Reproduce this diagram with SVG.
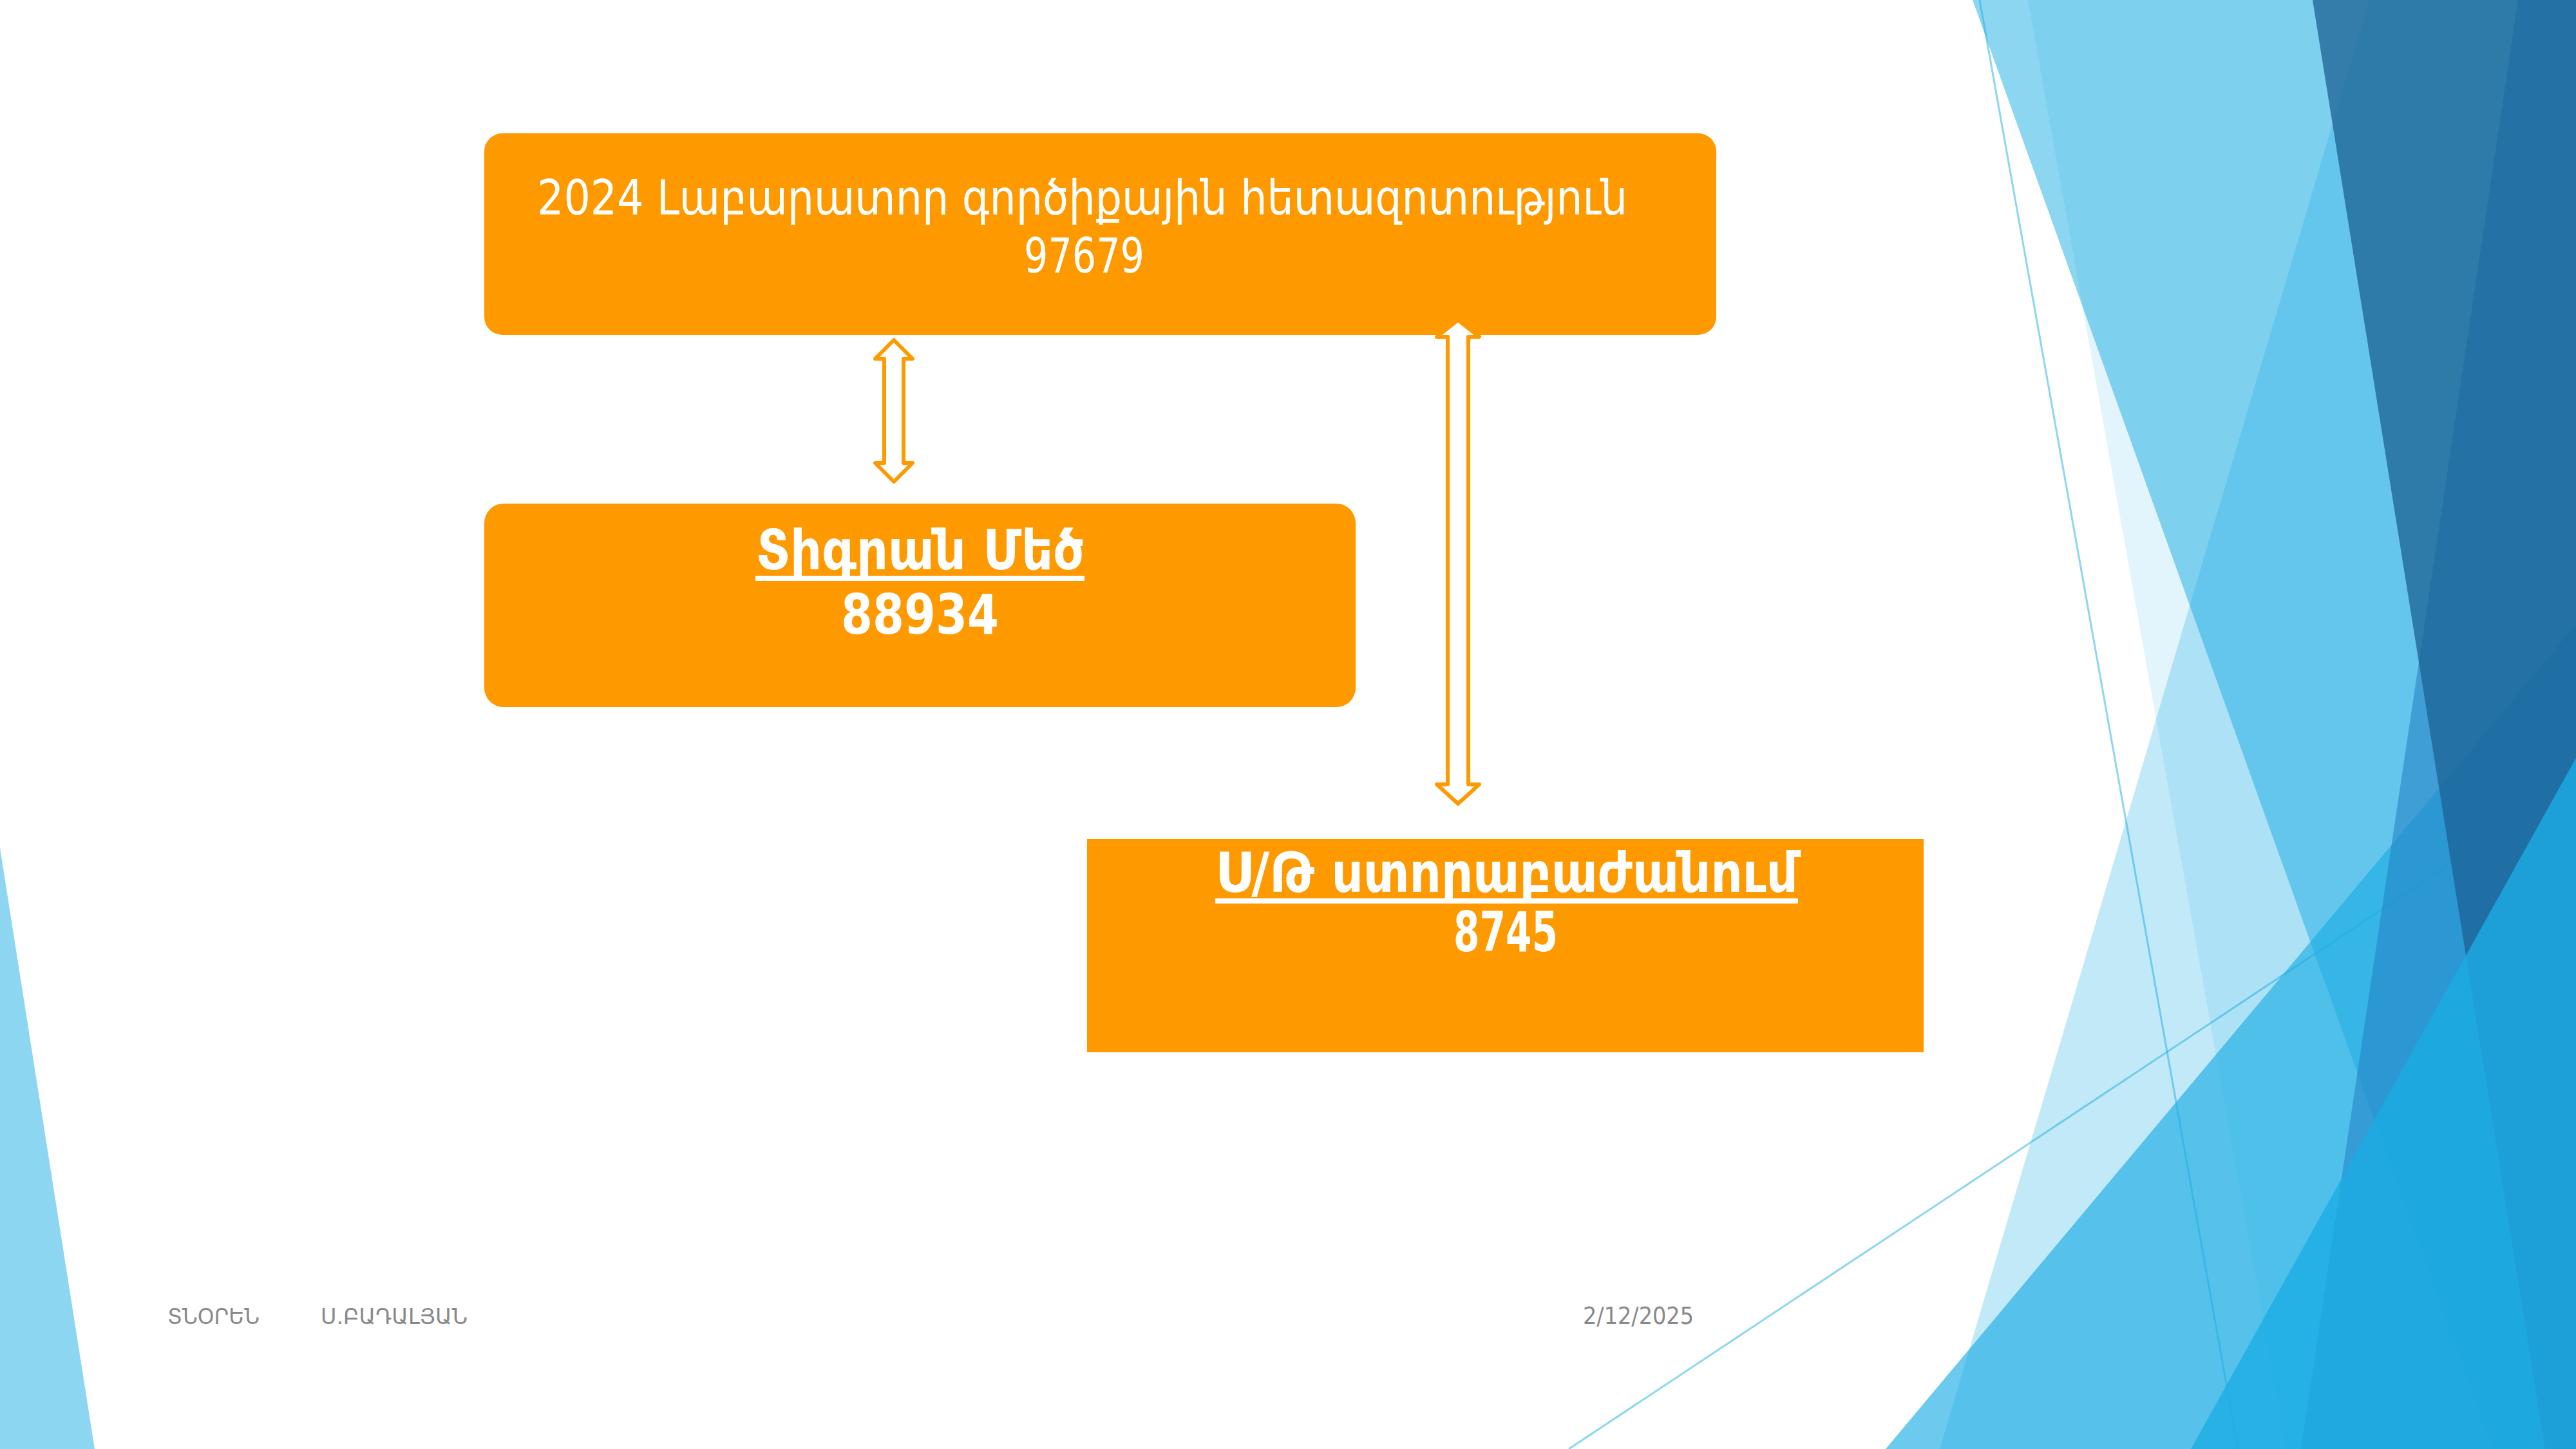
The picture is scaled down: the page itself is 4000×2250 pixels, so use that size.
<svg xmlns="http://www.w3.org/2000/svg" width="4000" height="2250" viewBox="0 0 4000 2250">
  <style>
    .box { fill: #FF9900; }
    .lbl { font-family: "DejaVu Sans", "Noto Sans", sans-serif; fill: #FFFFFF; }
    .reg { font-size: 75px; }
    .bold { font-size: 85px; font-weight: bold; }
    .uline { fill: #FFFFFF; }
    .foot { font-family: "DejaVu Sans", "Noto Sans", sans-serif; fill: #898989; }
    .arrow { fill: #FFFFFF; stroke: #FF9900; stroke-width: 6; stroke-linejoin: round; }
    .facet { fill: #1CADE4; }
    .rule { stroke: #1CADE4; stroke-opacity: 0.5; stroke-width: 3; fill: none; }
  </style>

  <!-- page -->
  <rect x="0" y="0" width="4000" height="2250" fill="#FFFFFF"/>

  <!-- decorative facets -->
  <g id="background">
    <polygon class="facet" fill-opacity="0.5" points="0,1317 147,2250 0,2250"/>
    <line class="rule" x1="3074" y1="0" x2="3475" y2="2250"/>
    <line class="rule" x1="2436" y1="2250" x2="4000" y2="1212"/>
    <polygon class="facet" fill-opacity="0.5" points="3063,0 3870,2250 4000,2250 4000,0"/>
    <polygon class="facet" fill-opacity="0.13" points="3149,0 3550,2250 4000,2250 4000,0"/>
    <polygon class="facet" fill-opacity="0.27" points="3679,0 3012,2250 4000,2250 4000,0"/>
    <polygon class="facet" fill-opacity="0.65" points="2928,2250 4000,970 4000,2250"/>
    <polygon fill="#2683C6" fill-opacity="0.6" points="3910,0 4000,0 4000,2250 3573,2250"/>
    <polygon fill="#1C6294" fill-opacity="0.75" points="3591,0 4000,0 4000,2250 3952,2250"/>
    <polygon class="facet" fill-opacity="0.8" points="3402,2250 4000,1177 4000,2250"/>
  </g>

  <!-- nodes -->
  <g id="node-lab">
    <rect class="box" x="752" y="207" width="1913" height="313" rx="28" ry="28"/>
    <text class="lbl reg" x="834" y="333" textLength="1693" lengthAdjust="spacingAndGlyphs">2024 Լաբարատոր գործիքային հետազոտություն</text>
    <text class="lbl reg" x="1590" y="423" textLength="187" lengthAdjust="spacingAndGlyphs">97679</text>
  </g>

  <g id="node-tigran">
    <rect class="box" x="752" y="782" width="1353" height="316" rx="30" ry="30"/>
    <text class="lbl bold" x="1174" y="884" textLength="510" lengthAdjust="spacingAndGlyphs">Տիգրան Մեծ</text>
    <rect class="uline" x="1173" y="894" width="511" height="8"/>
    <text class="lbl bold" x="1306" y="984" textLength="245" lengthAdjust="spacingAndGlyphs">88934</text>
  </g>

  <g id="node-subdivision">
    <rect class="box" x="1688" y="1303" width="1299" height="331"/>
    <text class="lbl bold" x="1887" y="1385" textLength="905" lengthAdjust="spacingAndGlyphs">Ս/Թ ստորաբաժանում</text>
    <rect class="uline" x="1887" y="1395" width="905" height="8"/>
    <text class="lbl bold" x="2257" y="1477" textLength="162" lengthAdjust="spacingAndGlyphs">8745</text>
  </g>

  <!-- connectors: hollow double-headed block arrows -->
  <g id="connectors">
    <path class="arrow" d="M1388,528 L1417,557 L1403,557 L1403,719 L1417,719 L1388,748 L1359,719 L1373,719 L1373,557 L1359,557 Z"/>
    <path class="arrow" d="M2264,497 L2297,523 L2280,523 L2280,1218 L2297,1218 L2264,1248 L2231,1218 L2248,1218 L2248,523 L2231,523 Z"/>
  </g>

  <!-- footer -->
  <g id="footer">
    <text class="foot" x="260" y="2056" font-size="33" textLength="143" lengthAdjust="spacingAndGlyphs">ՏՆՕՐԵՆ</text>
    <text class="foot" x="498" y="2056" font-size="33" textLength="228" lengthAdjust="spacingAndGlyphs">Ս.ԲԱԴԱԼՅԱՆ</text>
    <text class="foot" x="2458" y="2056" font-size="38" textLength="172" lengthAdjust="spacingAndGlyphs">2/12/2025</text>
  </g>
</svg>
